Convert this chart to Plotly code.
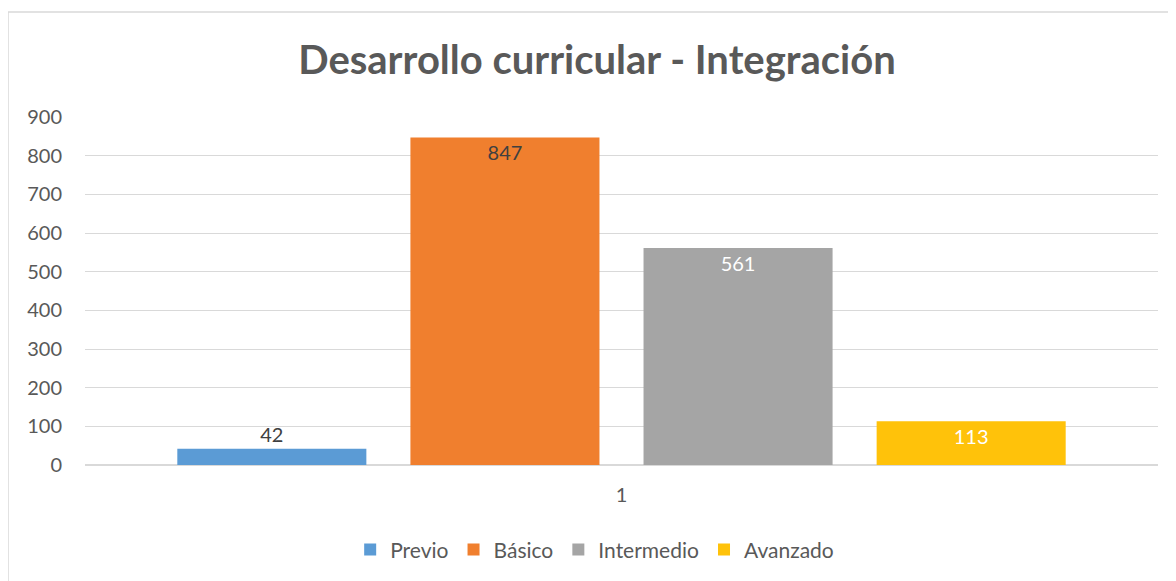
import plotly.graph_objects as go

categories = ["1"]
series_names = ["Previo", "Básico", "Intermedio", "Avanzado"]
series_values = [42, 847, 561, 113]
series_colors = ["#5B9BD5", "#F07F2E", "#A5A5A5", "#FFC20A"]
label_colors = ["#404040", "#404040", "white", "white"]
label_pos = ["outside", "inside", "inside", "inside"]

fig = go.Figure()
for name, val, col, lc, pos in zip(series_names, series_values, series_colors, label_colors, label_pos):
    fig.add_trace(go.Bar(
        x=categories, y=[val], name=name,
        marker=dict(color=col, line=dict(width=0)),
        text=[str(val)], textposition=pos, insidetextanchor="end",
        textfont=dict(size=20, color=lc, family="Lato, Open Sans, sans-serif"),
        cliponaxis=False,
    ))

# page body has an 8px margin, so plot area sits at screen x 85..1158, y 117..465
fig.update_layout(
    width=1176, height=581,
    margin=dict(l=77, r=26, t=109, b=124),
    paper_bgcolor="white", plot_bgcolor="white",
    font=dict(family="Lato, Open Sans, sans-serif", color="#595959", size=20),
    title=dict(text="<b>Desarrollo curricular - Integración</b>", x=(597 - 8) / 1176, xanchor="center",
               y=0.9105, yanchor="middle", font=dict(size=40, color="#595959")),
    barmode="group", bargap=0.131, bargroupgap=0.189,
    showlegend=True,
    legend=dict(orientation="h", x=0.475, xanchor="center", y=-0.244, yanchor="middle",
                font=dict(size=21, color="#595959"), itemwidth=30, traceorder="normal"),
    uniformtext=dict(minsize=20, mode="show"),
)
fig.update_yaxes(range=[0, 900], dtick=100, showgrid=True, gridcolor="#D9D9D9", gridwidth=1.2,
                 zeroline=True, zerolinecolor="#D9D9D9", zerolinewidth=1.5, showline=False,
                 tickfont=dict(size=20, color="#595959"), ticklabelstandoff=22)
fig.update_xaxes(showgrid=False, showline=False, ticks="", tickfont=dict(size=20, color="#595959"),
                 ticklabelstandoff=16)

# chart border
fig.add_shape(type="rect", xref="paper", yref="paper",
              x0=(8 - 85) / 1073, x1=(1190 - 85) / 1073,
              y0=(465 - 600) / 348, y1=(465 - 12) / 348,
              line=dict(color="#D9D9D9", width=1.5), layer="below")

fig.write_html("out.html")
